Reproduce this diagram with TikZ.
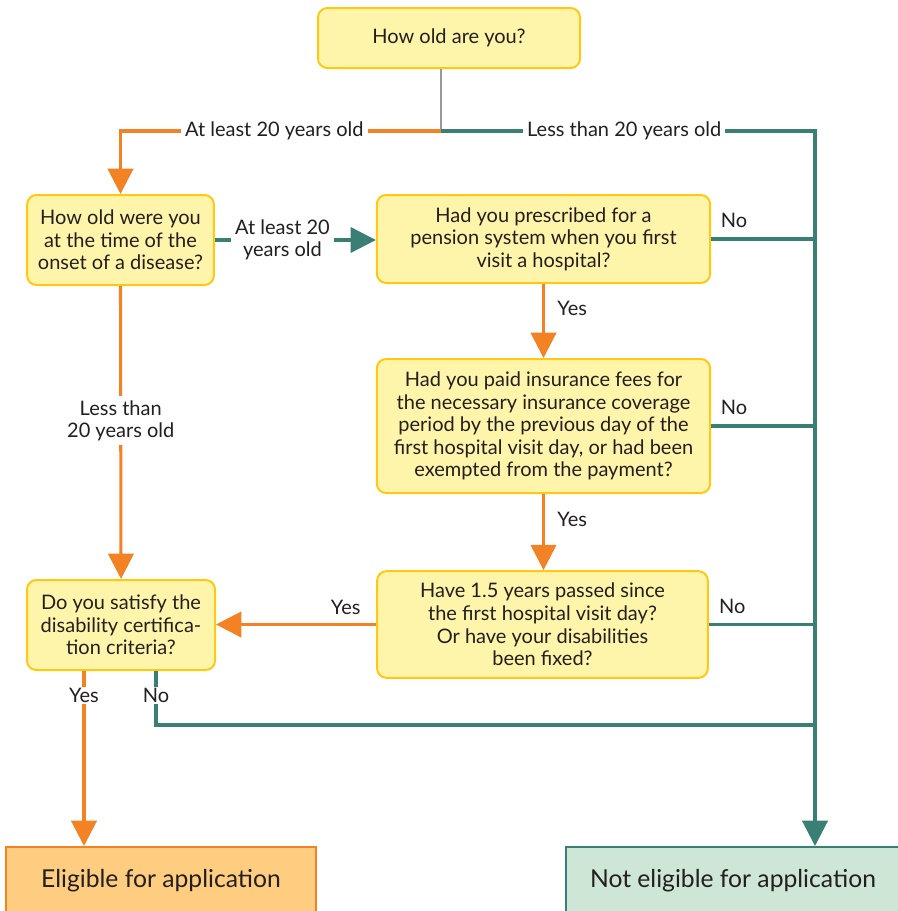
\documentclass[tikz,border=0pt]{standalone}
\usepackage{fontspec}
\setmainfont{Lato}
\usepackage{tikz}
\usetikzlibrary{arrows.meta, positioning}
\definecolor{qfill}{RGB}{255,245,170}
\definecolor{qedge}{RGB}{255,200,20}
\definecolor{yesorange}{RGB}{243,130,36}
\definecolor{noteal}{RGB}{58,127,115}
\definecolor{eligfill}{RGB}{255,205,128}
\definecolor{notfill}{RGB}{205,230,214}
\definecolor{ink}{RGB}{35,31,32}

\begin{document}
\begin{tikzpicture}[x=0.75pt, y=-0.75pt,
    question/.style={draw=qedge, fill=qfill, line width=1.5pt, rounded corners=7pt,
      align=center, inner sep=0pt, text=ink, font=\fontsize{15}{16.9}\selectfont},
    result/.style={line width=1.5pt, align=center, inner sep=0pt, text=ink,
      font=\fontsize{18.5}{20}\selectfont, minimum height=51pt},
    yesline/.style={yesorange, line width=2.3pt},
    noline/.style={noteal, line width=2.3pt},
    bigtip/.style={-{Triangle[length=19pt, width=19pt]}},
    edgetext/.style={text=ink, font=\fontsize{15}{16.9}\selectfont, align=center},
    gaptext/.style={edgetext, fill=white, inner sep=3pt}]
  \useasboundingbox (0,0) rectangle (897,911);

  % Questions
  \node[question, minimum width=196.5pt, minimum height=45pt] (age) at (449,38) {How old are you?};
  \node[question, minimum width=140pt, minimum height=67.5pt] (onset) at (120.5,240)
    {How old were you\\at the time of the\\onset of a disease?};
  \node[question, minimum width=250pt, minimum height=66pt] (pension) at (543.5,239)
    {Had you prescribed for a\\pension system when you first\\visit a hospital?};
  \node[question, minimum width=250pt, minimum height=100.5pt] (fees) at (543.5,426)
    {Had you paid insurance fees for\\the necessary insurance coverage\\period by the previous day of the\\first hospital visit day, or had been\\exempted from the payment?};
  \node[question, minimum width=248pt, minimum height=80pt] (passed) at (542.5,624.5)
    {Have 1.5 years passed since\\the first hospital visit day?\\Or have your disabilities\\been fixed?};
  \node[question, minimum width=141pt, minimum height=67.5pt] (criteria) at (121,625)
    {Do you satisfy the\\disability certifica-\\tion criteria?};

  % Results
  \node[result, draw=yesorange, fill=eligfill, minimum width=232.5pt] (elig) at (161,881)
    {Eligible for application};
  \node[result, draw=noteal, fill=notfill, minimum width=250.5pt] (notelig) at (733,881)
    {Not eligible for application};

  \coordinate (split) at (441,131);
  \coordinate (trunk) at (815,131);

  % First split
  \draw[gray!80, line width=1.2pt] (age.south -| split) -- (split);
  \draw[yesline, bigtip] (split) -- node[gaptext, pos=0.52] {At least 20 years old} (split -| onset) -- (onset.north);
  \draw[noline, bigtip] (split) -- node[gaptext, pos=0.49] {Less than 20 years old} (trunk) -- (notelig.north -| trunk);

  % Onset branch
  \draw[noline, bigtip] (onset.east) -- node[gaptext, pos=0.42] {At least 20\\years old} (onset.east -| pension.west);
  \draw[yesline, bigtip] (onset.south) -- node[gaptext, pos=0.46] {Less than\\20 years old} (criteria.north);

  % Yes chain
  \draw[yesline, bigtip] (pension.south) -- node[edgetext, right=6pt, pos=0.33] {Yes} (pension.south |- fees.north);
  \draw[yesline, bigtip] (fees.south) -- node[edgetext, right=6pt, pos=0.33] {Yes} (fees.south |- passed.north);
  \draw[yesline, bigtip] (passed.west) -- node[edgetext, above=3pt, pos=0.19] {Yes} (passed.west -| criteria.east);

  % No lines
  \foreach \q in {pension, fees, passed}
    \draw[noline] (\q.east) -- node[edgetext, above=4pt, pos=0.22] {No} (\q.east -| trunk);

  % Final answers
  \draw[yesline, bigtip] ([xshift=-27.75pt]criteria.south) -- node[gaptext, pos=0.14, inner sep=1pt] {Yes} ([xshift=-27.75pt]criteria.south |- elig.north);
  \draw[noline] ([xshift=26.25pt]criteria.south) |- node[gaptext, pos=0.23, inner sep=1pt] {No} (trunk |- 0,725);
\end{tikzpicture}
\end{document}
